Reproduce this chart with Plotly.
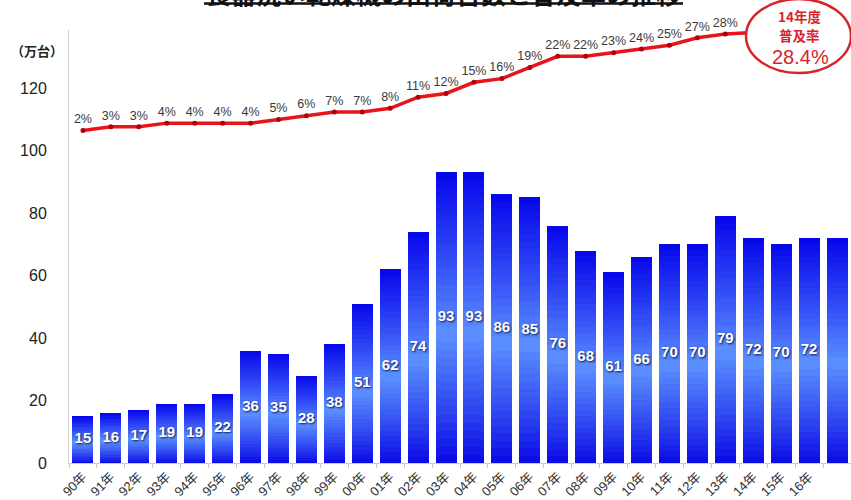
import plotly.graph_objects as go

# ---- data ----
categories = ["90年", "91年", "92年", "93年", "94年", "95年", "96年", "97年", "98年", "99年",
              "00年", "01年", "02年", "03年", "04年", "05年", "06年", "07年", "08年", "09年",
              "10年", "11年", "12年", "13年", "14年", "15年", "16年", "17年"]
tick_labels = categories[:-1] + [""]
shipments = [15, 16, 17, 19, 19, 22, 36, 35, 28, 38, 51, 62, 74, 93, 93, 86, 85, 76, 68, 61,
             66, 70, 70, 79, 72, 70, 72, 72]
shipment_labels = [str(v) for v in shipments[:-1]] + [""]
rate_years = categories[:25]
rates = [2, 3, 3, 4, 4, 4, 4, 5, 6, 7, 7, 8, 11, 12, 15, 16, 19, 22, 22, 23, 24, 25, 27, 28, 28.4]
rate_labels = [f"{r:g}%" for r in rates[:-1]] + [""]

FONT = "Liberation Sans, Arial, Noto Sans CJK JP, sans-serif"
CJK = "Noto Sans CJK JP, sans-serif"

# plot area in pixels
L, R, T, B = 69, 851, 30, 463
W, H = R - L, B - T
def px(x):
    return (x - L) / W
def py(y):
    return (B - y) / H

fig = go.Figure()

# gradient bars built from stacked segments
N = 36
def seg_color(t):
    # t: 0 bottom -> 1 top
    dark_b = (8, 8, 228)
    light = (92, 145, 255)
    dark_t = (6, 6, 235)
    mid = 0.45
    if t <= mid:
        f = t / mid
        a, b = dark_b, light
    else:
        f = (t - mid) / (1 - mid)
        a, b = light, dark_t
    f = f ** 0.9
    c = [round(a[i] + (b[i] - a[i]) * f) for i in range(3)]
    return f"rgb({c[0]},{c[1]},{c[2]})"

for k in range(N):
    fig.add_trace(go.Bar(
        x=categories, y=[v / N for v in shipments],
        marker=dict(color=seg_color((k + 0.5) / N), line=dict(width=0)),
        showlegend=False, hoverinfo="skip", yaxis="y"))

# bar value labels
fig.add_trace(go.Scatter(
    x=categories, y=[v / 2 for v in shipments], mode="text",
    text=shipment_labels,
    textfont=dict(family=FONT, size=15, color="white", weight="bold",
                  shadow="1px 1px 2px rgba(0,0,40,0.8)"),
    showlegend=False, hoverinfo="skip", yaxis="y"))

# penetration line
fig.add_trace(go.Scatter(
    x=rate_years, y=rates, mode="lines+markers+text",
    line=dict(color="#e8141c", width=3.5),
    marker=dict(color="#b00010", size=5),
    text=rate_labels, textposition="top center",
    textfont=dict(family=FONT, size=12.5, color="#3a3a3a"),
    showlegend=False, hoverinfo="skip", yaxis="y2", cliponaxis=False))

fig.update_layout(
    width=851, height=500,
    margin=dict(l=L, r=851 - R, t=T, b=500 - B),
    paper_bgcolor="white", plot_bgcolor="white",
    barmode="stack", bargap=0.25,
    font=dict(family=FONT, color="#222"),
    xaxis=dict(type="category", tickmode="array", tickvals=categories, ticktext=tick_labels,
               tickangle=-45, tickfont=dict(family=FONT, size=13, color="#333"),
               showline=True, linecolor="#cccccc", linewidth=1,
               ticks="outside", ticklen=4, tickcolor="#c8c8c8", tickson="boundaries",
               showgrid=False, zeroline=False, range=[-0.5, len(categories) - 0.5]),
    yaxis=dict(range=[0, H / 3.125], tickvals=[0, 20, 40, 60, 80, 100, 120],
               tickfont=dict(family=FONT, size=16, color="#222"),
               showline=True, linecolor="#cccccc", linewidth=1,
               showgrid=False, zeroline=False, ticks="", ticklabelstandoff=18),
    yaxis2=dict(overlaying="y", range=[-87.6, 29.1], visible=False),
)

# y axis unit
fig.add_annotation(text="<b>（万台）</b>", x=px(37), y=py(50), xref="paper", yref="paper",
                   xanchor="center", yanchor="middle",
                   showarrow=False, font=dict(family=CJK, size=13, color="#222"))

# title (cut off at the top) with underline
fig.add_annotation(text="<b>食器洗い乾燥機の出荷台数と普及率の推移</b>", x=px(443), y=py(13),
                   xref="paper", yref="paper", xanchor="center", yanchor="bottom",
                   showarrow=False, font=dict(family=CJK, size=25, color="#111"))
fig.add_shape(type="line", xref="paper", yref="paper", x0=px(204), x1=px(683),
              y0=py(3.5), y1=py(3.5), line=dict(color="#111", width=2.5))

# callout ellipse
fig.add_shape(type="circle", xref="paper", yref="paper", layer="above",
              x0=px(746), x1=px(851), y0=py(73), y1=py(-1),
              fillcolor="white", line=dict(color="#d8232a", width=2.5))
fig.add_annotation(text="<b>14年度</b>", x=px(799), y=py(16), xref="paper", yref="paper",
                   xanchor="center", yanchor="middle", borderpad=0,
                   showarrow=False, font=dict(family=CJK, size=13.5, color="#d8232a"))
fig.add_annotation(text="<b>普及率</b>", x=px(799), y=py(35), xref="paper", yref="paper",
                   xanchor="center", yanchor="middle", borderpad=0,
                   showarrow=False, font=dict(family=CJK, size=13.5, color="#d8232a"))
fig.add_annotation(text="28.4%", x=px(800), y=py(57), xref="paper", yref="paper",
                   xanchor="center", yanchor="middle",
                   showarrow=False, font=dict(family=FONT, size=20, color="#d8232a"))

fig.write_html("out.html")
